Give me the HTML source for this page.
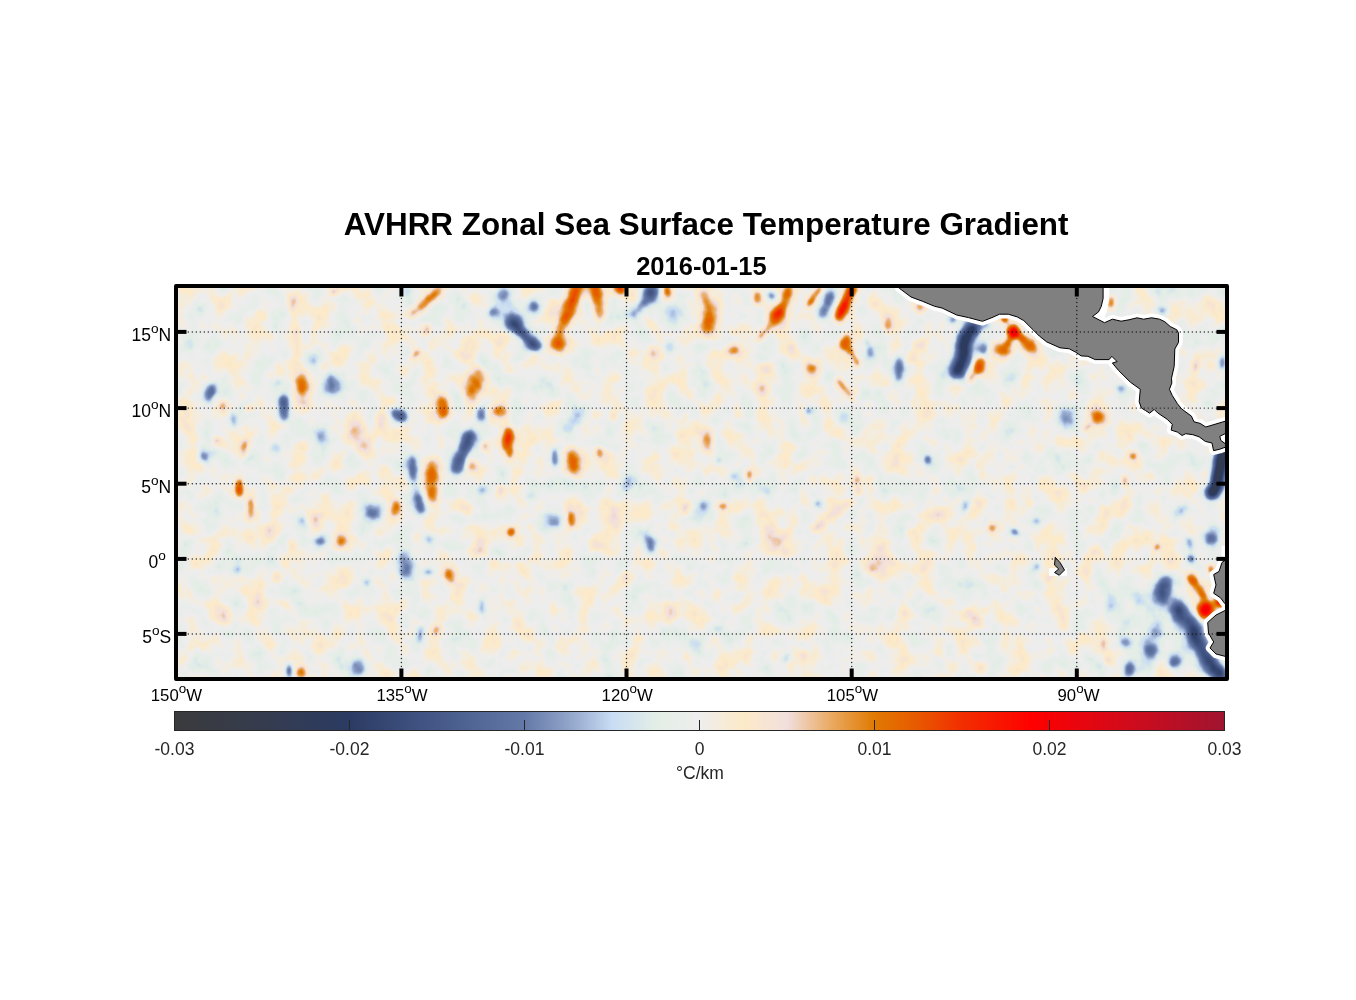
<!DOCTYPE html><html><head><meta charset="utf-8"><title>AVHRR Zonal Sea Surface Temperature Gradient</title>
<style>html,body{margin:0;padding:0;background:#fff}svg{display:block}text{font-family:"Liberation Sans",sans-serif}</style></head><body>
<svg style="will-change:transform" width="1356" height="1000" viewBox="0 0 1356 1000">
<defs>
<clipPath id="cp"><rect x="176" y="286" width="1051" height="393"/></clipPath>
<filter id="bl0" filterUnits="userSpaceOnUse" x="120" y="230" width="1160" height="500" color-interpolation-filters="sRGB"><feGaussianBlur stdDeviation="2.4"/></filter>
<filter id="bl1" filterUnits="userSpaceOnUse" x="120" y="230" width="1160" height="500" color-interpolation-filters="sRGB"><feGaussianBlur stdDeviation="3.2"/></filter>
<filter id="bl2" filterUnits="userSpaceOnUse" x="120" y="230" width="1160" height="500" color-interpolation-filters="sRGB"><feGaussianBlur stdDeviation="4.0"/></filter>
<filter id="bl2" filterUnits="userSpaceOnUse" x="120" y="230" width="1160" height="500" color-interpolation-filters="sRGB"><feGaussianBlur stdDeviation="4.5"/></filter>
<filter id="cm" filterUnits="userSpaceOnUse" x="120" y="230" width="1160" height="500" color-interpolation-filters="sRGB">
<feTurbulence type="fractalNoise" baseFrequency="0.045 0.04" numOctaves="3" seed="7" result="n0"/>
<feColorMatrix in="n0" type="matrix" values="0.18 0 0 0 0.41  0.18 0 0 0 0.41  0.18 0 0 0 0.41  0 0 0 0 1" result="n1"/>
<feComposite in="SourceGraphic" in2="n1" operator="arithmetic" k1="0" k2="1" k3="1" k4="-0.5" result="f"/>
<feComponentTransfer in="f"><feFuncR type="table" tableValues="0.231 0.229 0.227 0.224 0.222 0.220 0.217 0.215 0.213 0.210 0.208 0.204 0.200 0.196 0.192 0.188 0.184 0.180 0.176 0.173 0.169 0.179 0.189 0.199 0.209 0.220 0.230 0.240 0.250 0.260 0.271 0.283 0.295 0.307 0.319 0.331 0.344 0.356 0.368 0.380 0.392 0.427 0.461 0.496 0.530 0.565 0.609 0.653 0.696 0.740 0.784 0.805 0.827 0.848 0.869 0.890 0.899 0.907 0.916 0.925 0.933 0.945 0.957 0.969 0.980 0.992 0.983 0.973 0.964 0.955 0.945 0.940 0.934 0.929 0.923 0.918 0.910 0.902 0.894 0.886 0.878 0.885 0.891 0.897 0.904 0.910 0.918 0.925 0.933 0.941 0.949 0.955 0.962 0.968 0.975 0.981 0.987 0.994 1.000 0.983 0.967 0.950 0.933 0.917 0.900 0.883 0.867 0.850 0.833 0.817 0.800 0.783 0.765 0.748 0.731 0.714 0.696 0.679 0.662 0.645 0.627"/><feFuncG type="table" tableValues="0.231 0.232 0.232 0.233 0.233 0.233 0.234 0.234 0.235 0.235 0.235 0.235 0.235 0.234 0.234 0.233 0.233 0.233 0.232 0.232 0.231 0.243 0.254 0.265 0.277 0.288 0.300 0.311 0.322 0.334 0.345 0.358 0.371 0.384 0.397 0.410 0.423 0.436 0.449 0.462 0.475 0.507 0.540 0.573 0.606 0.639 0.684 0.729 0.773 0.818 0.863 0.877 0.891 0.905 0.919 0.933 0.933 0.933 0.933 0.933 0.933 0.930 0.927 0.924 0.921 0.918 0.909 0.900 0.892 0.883 0.875 0.833 0.791 0.750 0.708 0.667 0.629 0.591 0.554 0.516 0.478 0.452 0.425 0.398 0.372 0.345 0.312 0.279 0.246 0.213 0.180 0.158 0.135 0.113 0.090 0.068 0.045 0.023 0.000 0.004 0.008 0.012 0.016 0.020 0.024 0.027 0.031 0.035 0.039 0.043 0.047 0.050 0.053 0.056 0.060 0.063 0.066 0.069 0.072 0.075 0.078"/><feFuncB type="table" tableValues="0.239 0.246 0.253 0.259 0.266 0.273 0.279 0.286 0.293 0.299 0.306 0.314 0.322 0.331 0.339 0.347 0.355 0.364 0.372 0.380 0.388 0.403 0.417 0.432 0.446 0.461 0.475 0.490 0.504 0.519 0.533 0.546 0.558 0.571 0.584 0.596 0.609 0.621 0.634 0.646 0.659 0.685 0.711 0.736 0.762 0.788 0.822 0.856 0.889 0.923 0.957 0.946 0.935 0.924 0.913 0.902 0.908 0.915 0.921 0.927 0.933 0.904 0.874 0.844 0.814 0.784 0.802 0.819 0.836 0.853 0.871 0.773 0.676 0.579 0.482 0.384 0.309 0.234 0.158 0.083 0.008 0.006 0.005 0.003 0.002 0.000 0.000 0.000 0.000 0.000 0.000 0.000 0.000 0.000 0.000 0.000 0.000 0.000 0.000 0.010 0.020 0.029 0.039 0.049 0.059 0.069 0.078 0.088 0.098 0.108 0.118 0.125 0.132 0.139 0.146 0.153 0.160 0.167 0.174 0.181 0.188"/></feComponentTransfer>
</filter>
<linearGradient id="cb" x1="0" x2="1" y1="0" y2="0">
<stop offset="0.0000" stop-color="#3b3b3d"/>
<stop offset="0.0833" stop-color="#353c4e"/>
<stop offset="0.1667" stop-color="#2b3b63"/>
<stop offset="0.2500" stop-color="#455888"/>
<stop offset="0.3333" stop-color="#6479a8"/>
<stop offset="0.3750" stop-color="#90a3c9"/>
<stop offset="0.4167" stop-color="#c8dcf4"/>
<stop offset="0.4583" stop-color="#e3eee6"/>
<stop offset="0.5000" stop-color="#eeeeee"/>
<stop offset="0.5417" stop-color="#fdeac8"/>
<stop offset="0.5833" stop-color="#f1dfde"/>
<stop offset="0.6250" stop-color="#eaaa62"/>
<stop offset="0.6667" stop-color="#e07a02"/>
<stop offset="0.7083" stop-color="#e85800"/>
<stop offset="0.7500" stop-color="#f22e00"/>
<stop offset="0.8167" stop-color="#ff0000"/>
<stop offset="0.9167" stop-color="#cc0c1e"/>
<stop offset="1.0000" stop-color="#a01430"/>
</linearGradient>
</defs>
<g clip-path="url(#cp)"><g filter="url(#cm)">
<rect x="120" y="230" width="1160" height="500" fill="#808080"/>
<g filter="url(#bl2)">
<ellipse cx="356" cy="428" rx="8.3" ry="14.3" fill="#fff" opacity="0.177"/>
<ellipse cx="364" cy="448" rx="6.3" ry="8.3" fill="#fff" opacity="0.187"/>
<ellipse cx="299" cy="370" rx="6.3" ry="13.3" fill="#fff" opacity="0.175" transform="rotate(5 299 370)"/>
<ellipse cx="306" cy="402" rx="5.3" ry="5.3" fill="#fff" opacity="0.230"/>
<ellipse cx="406" cy="292" rx="5.3" ry="4.3" fill="#000" opacity="0.239"/>
<ellipse cx="290" cy="304" rx="5.3" ry="6.3" fill="#fff" opacity="0.167"/>
<ellipse cx="223" cy="304" rx="6.3" ry="10.3" fill="#fff" opacity="0.114"/>
<ellipse cx="380" cy="424" rx="5.3" ry="8.3" fill="#fff" opacity="0.169"/>
<ellipse cx="385" cy="472" rx="4.3" ry="6.3" fill="#fff" opacity="0.241"/>
<ellipse cx="320" cy="472" rx="6.3" ry="5.3" fill="#fff" opacity="0.146"/>
<ellipse cx="184" cy="418" rx="4.3" ry="6.3" fill="#fff" opacity="0.217"/>
<ellipse cx="190" cy="344" rx="5.3" ry="10.3" fill="#000" opacity="0.143"/>
<ellipse cx="196" cy="307" rx="5.3" ry="5.3" fill="#000" opacity="0.161"/>
<ellipse cx="515" cy="310" rx="22.3" ry="18.3" fill="#000" opacity="0.080"/>
<ellipse cx="552" cy="312" rx="8.3" ry="14.3" fill="#fff" opacity="0.114" transform="rotate(15 552 312)"/>
<ellipse cx="574" cy="420" rx="7.3" ry="16.3" fill="#000" opacity="0.173" transform="rotate(35 574 420)"/>
<ellipse cx="498" cy="378" rx="3.3" ry="14.3" fill="#000" opacity="0.199"/>
<ellipse cx="594" cy="364" rx="4.3" ry="8.3" fill="#fff" opacity="0.194"/>
<ellipse cx="614" cy="340" rx="4.3" ry="6.3" fill="#fff" opacity="0.193"/>
<ellipse cx="686" cy="416" rx="4.3" ry="5.3" fill="#fff" opacity="0.265"/>
<ellipse cx="689" cy="454" rx="4.3" ry="5.3" fill="#fff" opacity="0.212"/>
<ellipse cx="672" cy="316" rx="4.3" ry="10.3" fill="#000" opacity="0.206"/>
<ellipse cx="465" cy="349" rx="15.3" ry="12.3" fill="#fff" opacity="0.107"/>
<ellipse cx="456" cy="296" rx="8.3" ry="5.3" fill="#000" opacity="0.150"/>
<ellipse cx="764" cy="368" rx="5.3" ry="5.3" fill="#fff" opacity="0.230"/>
<ellipse cx="720" cy="380" rx="5.3" ry="5.3" fill="#fff" opacity="0.184"/>
<ellipse cx="762" cy="390" rx="4.3" ry="7.3" fill="#fff" opacity="0.180"/>
<ellipse cx="792" cy="346" rx="6.3" ry="4.3" fill="#fff" opacity="0.193"/>
<ellipse cx="824" cy="406" rx="3.3" ry="8.3" fill="#fff" opacity="0.266"/>
<ellipse cx="912" cy="360" rx="4.3" ry="5.3" fill="#fff" opacity="0.212"/>
<ellipse cx="920" cy="344" rx="5.3" ry="4.3" fill="#fff" opacity="0.212"/>
<ellipse cx="740" cy="412" rx="3.3" ry="5.3" fill="#fff" opacity="0.245"/>
<ellipse cx="842" cy="420" rx="3.3" ry="8.3" fill="#000" opacity="0.213"/>
<ellipse cx="864" cy="394" rx="6.3" ry="4.3" fill="#000" opacity="0.193"/>
<ellipse cx="798" cy="458" rx="4.3" ry="4.3" fill="#000" opacity="0.244"/>
<ellipse cx="942" cy="380" rx="4.3" ry="6.3" fill="#000" opacity="0.193"/>
<ellipse cx="724" cy="410" rx="4.3" ry="4.3" fill="#000" opacity="0.244"/>
<ellipse cx="1042" cy="388" rx="8.3" ry="10.3" fill="#fff" opacity="0.102"/>
<ellipse cx="1128" cy="434" rx="20.3" ry="10.3" fill="#fff" opacity="0.095"/>
<ellipse cx="1008" cy="380" rx="6.3" ry="5.3" fill="#000" opacity="0.167"/>
<ellipse cx="386" cy="672" rx="5.3" ry="5.3" fill="#fff" opacity="0.230"/>
<ellipse cx="260" cy="598" rx="6.3" ry="8.3" fill="#fff" opacity="0.136"/>
<ellipse cx="224" cy="616" rx="6.3" ry="10.3" fill="#fff" opacity="0.130"/>
<ellipse cx="342" cy="578" rx="8.3" ry="10.3" fill="#fff" opacity="0.117"/>
<ellipse cx="196" cy="612" rx="5.3" ry="5.3" fill="#000" opacity="0.230"/>
<ellipse cx="268" cy="504" rx="3.3" ry="3.3" fill="#000" opacity="0.245"/>
<ellipse cx="196" cy="514" rx="5.3" ry="5.3" fill="#fff" opacity="0.138"/>
<ellipse cx="266" cy="530" rx="5.3" ry="5.3" fill="#fff" opacity="0.184"/>
<ellipse cx="292" cy="544" rx="6.3" ry="4.3" fill="#fff" opacity="0.193"/>
<ellipse cx="218" cy="496" rx="6.3" ry="8.3" fill="#000" opacity="0.136"/>
<ellipse cx="574" cy="514" rx="10.3" ry="16.3" fill="#fff" opacity="0.109"/>
<ellipse cx="466" cy="510" rx="8.3" ry="4.3" fill="#fff" opacity="0.173"/>
<ellipse cx="498" cy="564" rx="10.3" ry="5.3" fill="#fff" opacity="0.179"/>
<ellipse cx="596" cy="546" rx="6.3" ry="6.3" fill="#fff" opacity="0.190"/>
<ellipse cx="616" cy="524" rx="5.3" ry="10.3" fill="#fff" opacity="0.179"/>
<ellipse cx="516" cy="614" rx="5.3" ry="12.3" fill="#fff" opacity="0.141" transform="rotate(-20 516 614)"/>
<ellipse cx="670" cy="614" rx="6.3" ry="10.3" fill="#fff" opacity="0.098"/>
<ellipse cx="484" cy="644" rx="5.3" ry="8.3" fill="#fff" opacity="0.150"/>
<ellipse cx="540" cy="584" rx="5.3" ry="5.3" fill="#fff" opacity="0.184"/>
<ellipse cx="480" cy="548" rx="5.3" ry="4.3" fill="#fff" opacity="0.212"/>
<ellipse cx="676" cy="548" rx="5.3" ry="6.3" fill="#fff" opacity="0.167"/>
<ellipse cx="626" cy="578" rx="4.3" ry="4.3" fill="#fff" opacity="0.244"/>
<ellipse cx="568" cy="586" rx="5.3" ry="4.3" fill="#000" opacity="0.212"/>
<ellipse cx="698" cy="644" rx="4.3" ry="4.3" fill="#000" opacity="0.244"/>
<ellipse cx="604" cy="658" rx="4.3" ry="4.3" fill="#000" opacity="0.244"/>
<ellipse cx="530" cy="496" rx="4.3" ry="4.3" fill="#000" opacity="0.244"/>
<ellipse cx="778" cy="542" rx="18.3" ry="16.3" fill="#fff" opacity="0.120"/>
<ellipse cx="886" cy="564" rx="18.3" ry="18.3" fill="#fff" opacity="0.093"/>
<ellipse cx="940" cy="516" rx="4.3" ry="8.3" fill="#fff" opacity="0.216"/>
<ellipse cx="866" cy="607" rx="4.3" ry="4.3" fill="#fff" opacity="0.244"/>
<ellipse cx="822" cy="604" rx="4.3" ry="10.3" fill="#fff" opacity="0.165"/>
<ellipse cx="904" cy="612" rx="4.3" ry="5.3" fill="#fff" opacity="0.212"/>
<ellipse cx="964" cy="614" rx="5.3" ry="6.3" fill="#fff" opacity="0.209"/>
<ellipse cx="942" cy="650" rx="4.3" ry="8.3" fill="#fff" opacity="0.173"/>
<ellipse cx="744" cy="546" rx="5.3" ry="5.3" fill="#000" opacity="0.184"/>
<ellipse cx="716" cy="538" rx="4.3" ry="5.3" fill="#000" opacity="0.212"/>
<ellipse cx="808" cy="608" rx="3.3" ry="4.3" fill="#000" opacity="0.245"/>
<ellipse cx="900" cy="494" rx="3.3" ry="4.3" fill="#000" opacity="0.245"/>
<ellipse cx="962" cy="566" rx="4.3" ry="4.3" fill="#000" opacity="0.244"/>
<ellipse cx="966" cy="668" rx="4.3" ry="4.3" fill="#000" opacity="0.305"/>
<ellipse cx="734" cy="592" rx="3.3" ry="3.3" fill="#000" opacity="0.245"/>
<ellipse cx="856" cy="570" rx="4.3" ry="4.3" fill="#000" opacity="0.244"/>
<ellipse cx="1160" cy="632" rx="38.3" ry="36.3" fill="#000" opacity="0.080"/>
<ellipse cx="1150" cy="600" rx="14.3" ry="14.3" fill="#000" opacity="0.053"/>
<ellipse cx="1144" cy="542" rx="8.3" ry="10.3" fill="#fff" opacity="0.146"/>
<ellipse cx="1124" cy="510" rx="6.3" ry="10.3" fill="#fff" opacity="0.163"/>
<ellipse cx="1139.5" cy="600" rx="6.3" ry="6.3" fill="#000" opacity="0.228"/>
<ellipse cx="1157.5" cy="630" rx="6.3" ry="8.3" fill="#000" opacity="0.204"/>
<ellipse cx="1163.5" cy="672" rx="5.3" ry="8.3" fill="#fff" opacity="0.187"/>
<ellipse cx="1020" cy="648" rx="4.3" ry="10.3" fill="#fff" opacity="0.165"/>
<ellipse cx="1037" cy="542" rx="4.3" ry="8.3" fill="#fff" opacity="0.216"/>
<ellipse cx="1088" cy="570" rx="5.3" ry="8.3" fill="#fff" opacity="0.187"/>
<ellipse cx="1030" cy="506" rx="4.3" ry="12.3" fill="#fff" opacity="0.162" transform="rotate(20 1030 506)"/>
<ellipse cx="978" cy="502" rx="3.3" ry="8.3" fill="#fff" opacity="0.213"/>
<ellipse cx="1064" cy="494" rx="4.3" ry="6.3" fill="#fff" opacity="0.193"/>
<ellipse cx="1096" cy="550" rx="5.3" ry="5.3" fill="#fff" opacity="0.184"/>
<ellipse cx="1066" cy="624" rx="4.3" ry="6.3" fill="#fff" opacity="0.193"/>
</g>
<g filter="url(#bl0)">
<ellipse cx="427" cy="330" rx="3.3" ry="6.3" fill="#fff" opacity="0.283" transform="rotate(10 427 330)"/>
<ellipse cx="416" cy="354" rx="2.8" ry="6.3" fill="#fff" opacity="0.289" transform="rotate(40 416 354)"/>
<ellipse cx="244" cy="450" rx="3.3" ry="9.3" fill="#fff" opacity="0.301" transform="rotate(10 244 450)"/>
<ellipse cx="249" cy="408" rx="3.3" ry="3.3" fill="#fff" opacity="0.314"/>
<ellipse cx="223" cy="406" rx="2.8" ry="5.3" fill="#fff" opacity="0.294" transform="rotate(20 223 406)"/>
<ellipse cx="217" cy="441" rx="2.8" ry="4.3" fill="#fff" opacity="0.309"/>
<ellipse cx="239.5" cy="488" rx="3.8" ry="10.3" fill="#fff" opacity="0.470"/>
<ellipse cx="233" cy="420" rx="3.3" ry="8.3" fill="#000" opacity="0.221"/>
<ellipse cx="334" cy="292" rx="3.3" ry="3.3" fill="#fff" opacity="0.266"/>
<ellipse cx="574" cy="298" rx="3.3" ry="8.3" fill="#fff" opacity="0.120" transform="rotate(20 574 298)"/>
<ellipse cx="510" cy="454" rx="2.8" ry="5.3" fill="#fff" opacity="0.408"/>
<ellipse cx="599.3" cy="452.2" rx="3.8" ry="5.3" fill="#fff" opacity="0.328"/>
<ellipse cx="485" cy="446.5" rx="3.3" ry="4.8" fill="#fff" opacity="0.357"/>
<ellipse cx="554.7" cy="458" rx="2.8" ry="10.3" fill="#000" opacity="0.441"/>
<ellipse cx="614" cy="416" rx="3.3" ry="5.3" fill="#fff" opacity="0.206"/>
<ellipse cx="757" cy="298" rx="3.8" ry="8.3" fill="#fff" opacity="0.339"/>
<ellipse cx="870" cy="352" rx="3.3" ry="7.3" fill="#000" opacity="0.322"/>
<ellipse cx="866" cy="342" rx="3.3" ry="4.3" fill="#000" opacity="0.260"/>
<ellipse cx="749" cy="476" rx="3.8" ry="6.3" fill="#fff" opacity="0.379"/>
<ellipse cx="808" cy="411" rx="3.8" ry="3.8" fill="#000" opacity="0.382"/>
<ellipse cx="928" cy="460" rx="2.8" ry="4.8" fill="#000" opacity="0.415"/>
<ellipse cx="734" cy="476" rx="3.8" ry="3.8" fill="#000" opacity="0.254"/>
<ellipse cx="718" cy="461" rx="3.3" ry="3.3" fill="#000" opacity="0.290"/>
<ellipse cx="953" cy="320" rx="3.3" ry="3.3" fill="#000" opacity="0.338"/>
<ellipse cx="857" cy="480" rx="3.3" ry="4.3" fill="#fff" opacity="0.260"/>
<ellipse cx="1005" cy="319" rx="3.3" ry="4.3" fill="#fff" opacity="0.563"/>
<ellipse cx="971" cy="378" rx="3.3" ry="4.3" fill="#fff" opacity="0.390" transform="rotate(30 971 378)"/>
<ellipse cx="1133" cy="456" rx="3.3" ry="3.3" fill="#fff" opacity="0.435"/>
<ellipse cx="1125" cy="481" rx="3.3" ry="6.3" fill="#fff" opacity="0.364"/>
<ellipse cx="1111" cy="302" rx="2.8" ry="7.3" fill="#fff" opacity="0.397"/>
<ellipse cx="1222" cy="362" rx="3.3" ry="7.3" fill="#000" opacity="0.442"/>
<ellipse cx="1121" cy="388" rx="4.3" ry="3.3" fill="#000" opacity="0.303"/>
<ellipse cx="1196" cy="366" rx="3.3" ry="7.3" fill="#fff" opacity="0.201" transform="rotate(20 1196 366)"/>
<ellipse cx="251" cy="509" rx="3.3" ry="11.3" fill="#fff" opacity="0.361"/>
<ellipse cx="428" cy="572" rx="5.3" ry="3.3" fill="#000" opacity="0.289"/>
<ellipse cx="237" cy="571" rx="3.3" ry="5.3" fill="#000" opacity="0.289"/>
<ellipse cx="367" cy="582" rx="3.8" ry="3.8" fill="#000" opacity="0.297"/>
<ellipse cx="420" cy="634" rx="3.8" ry="8.3" fill="#000" opacity="0.301"/>
<ellipse cx="436" cy="630" rx="3.8" ry="5.3" fill="#fff" opacity="0.271"/>
<ellipse cx="289" cy="670" rx="2.8" ry="7.3" fill="#000" opacity="0.530"/>
<ellipse cx="302" cy="521" rx="3.3" ry="3.3" fill="#000" opacity="0.241"/>
<ellipse cx="511" cy="532" rx="3.8" ry="4.8" fill="#fff" opacity="0.394"/>
<ellipse cx="571" cy="520" rx="3.3" ry="8.3" fill="#fff" opacity="0.401"/>
<ellipse cx="482" cy="608" rx="3.3" ry="8.3" fill="#000" opacity="0.241"/>
<ellipse cx="500" cy="490" rx="3.3" ry="6.3" fill="#fff" opacity="0.202"/>
<ellipse cx="818" cy="504" rx="3.8" ry="3.8" fill="#000" opacity="0.297"/>
<ellipse cx="965" cy="506" rx="3.3" ry="6.3" fill="#000" opacity="0.283"/>
<ellipse cx="784" cy="552" rx="3.3" ry="4.3" fill="#fff" opacity="0.087"/>
<ellipse cx="858" cy="492" rx="3.8" ry="5.3" fill="#fff" opacity="0.271"/>
<ellipse cx="872" cy="570" rx="3.3" ry="4.3" fill="#fff" opacity="0.152"/>
<ellipse cx="804" cy="654" rx="3.3" ry="6.3" fill="#fff" opacity="0.202"/>
<ellipse cx="787" cy="657" rx="3.3" ry="5.3" fill="#000" opacity="0.247"/>
<ellipse cx="767" cy="491" rx="2.8" ry="2.8" fill="#000" opacity="0.291"/>
<ellipse cx="1015" cy="532" rx="5.3" ry="3.3" fill="#000" opacity="0.454" transform="rotate(35 1015 532)"/>
<ellipse cx="1157" cy="547" rx="3.3" ry="3.3" fill="#fff" opacity="0.483"/>
<ellipse cx="1211" cy="569" rx="3.3" ry="5.3" fill="#fff" opacity="0.412"/>
<ellipse cx="1191" cy="559" rx="3.3" ry="3.3" fill="#000" opacity="0.483"/>
<ellipse cx="1104" cy="646" rx="3.8" ry="7.3" fill="#fff" opacity="0.264"/>
<ellipse cx="1108" cy="660" rx="3.3" ry="5.3" fill="#fff" opacity="0.206"/>
<ellipse cx="1037" cy="567" rx="3.3" ry="3.3" fill="#000" opacity="0.290"/>
<ellipse cx="1036" cy="521" rx="3.3" ry="3.3" fill="#000" opacity="0.241"/>
<ellipse cx="1190" cy="542" rx="3.3" ry="6.3" fill="#000" opacity="0.243"/>
<path d="M293 300 L296 330 L298 355" fill="none" stroke="#fff" stroke-width="6" stroke-linecap="round" stroke-linejoin="round" opacity="0.093"/>
<path d="M769 327 L760 337" fill="none" stroke="#fff" stroke-width="6" stroke-linecap="round" stroke-linejoin="round" opacity="0.338"/>
<path d="M820 288 L809 304" fill="none" stroke="#fff" stroke-width="6" stroke-linecap="round" stroke-linejoin="round" opacity="0.423"/>
<path d="M850 350 L858 364" fill="none" stroke="#fff" stroke-width="5" stroke-linecap="round" stroke-linejoin="round" opacity="0.380"/>
<path d="M838 380 L848.5 394" fill="none" stroke="#fff" stroke-width="5" stroke-linecap="round" stroke-linejoin="round" opacity="0.380"/>
<path d="M1089 425 L1085 429" fill="none" stroke="#fff" stroke-width="4" stroke-linecap="round" stroke-linejoin="round" opacity="0.336"/>
<path d="M1013 334 L1008 343" fill="none" stroke="#fff" stroke-width="6" stroke-linecap="round" stroke-linejoin="round" opacity="0.380"/>
<path d="M1016 334 L1024 339" fill="none" stroke="#fff" stroke-width="6" stroke-linecap="round" stroke-linejoin="round" opacity="0.380"/>
<path d="M1193 581 L1198 588 L1204 597" fill="none" stroke="#fff" stroke-width="7" stroke-linecap="round" stroke-linejoin="round" opacity="0.351"/>
</g>
<g filter="url(#bl1)">
<ellipse cx="284" cy="408" rx="5.8" ry="13.3" fill="#000" opacity="0.502"/>
<ellipse cx="210" cy="393" rx="5.3" ry="9.3" fill="#000" opacity="0.445" transform="rotate(20 210 393)"/>
<ellipse cx="399" cy="415" rx="10.3" ry="5.8" fill="#000" opacity="0.467" transform="rotate(25 399 415)"/>
<ellipse cx="413" cy="468" rx="4.3" ry="14.3" fill="#000" opacity="0.426"/>
<ellipse cx="204" cy="456" rx="5.3" ry="5.3" fill="#000" opacity="0.368"/>
<ellipse cx="276" cy="448" rx="4.3" ry="4.3" fill="#000" opacity="0.297"/>
<ellipse cx="278" cy="382" rx="4.3" ry="4.3" fill="#000" opacity="0.247"/>
<ellipse cx="314" cy="362" rx="4.3" ry="5.3" fill="#000" opacity="0.202"/>
<ellipse cx="535.5" cy="345.5" rx="6.3" ry="6.3" fill="#000" opacity="0.516"/>
<ellipse cx="533" cy="306.5" rx="5.3" ry="5.3" fill="#000" opacity="0.450"/>
<ellipse cx="504" cy="293.5" rx="6.3" ry="6.3" fill="#000" opacity="0.276"/>
<ellipse cx="493" cy="312" rx="4.3" ry="4.3" fill="#000" opacity="0.321"/>
<ellipse cx="620" cy="288" rx="4.8" ry="7.3" fill="#fff" opacity="0.551" transform="rotate(-15 620 288)"/>
<ellipse cx="667.5" cy="292" rx="4.3" ry="7.3" fill="#fff" opacity="0.436"/>
<ellipse cx="443" cy="407" rx="5.8" ry="12.3" fill="#fff" opacity="0.401"/>
<ellipse cx="500.5" cy="411" rx="10.3" ry="5.3" fill="#fff" opacity="0.333"/>
<ellipse cx="508" cy="440" rx="5.3" ry="12.3" fill="#fff" opacity="0.591" transform="rotate(5 508 440)"/>
<ellipse cx="481" cy="415" rx="4.8" ry="8.3" fill="#000" opacity="0.466"/>
<ellipse cx="471" cy="466" rx="4.3" ry="5.3" fill="#fff" opacity="0.360"/>
<ellipse cx="626" cy="484" rx="4.3" ry="9.3" fill="#000" opacity="0.224" transform="rotate(20 626 484)"/>
<ellipse cx="654" cy="353" rx="4.3" ry="4.3" fill="#fff" opacity="0.247"/>
<ellipse cx="670" cy="346" rx="5.3" ry="5.3" fill="#000" opacity="0.246"/>
<ellipse cx="704.5" cy="297" rx="4.3" ry="8.3" fill="#fff" opacity="0.295" transform="rotate(-10 704.5 297)"/>
<ellipse cx="771" cy="295" rx="4.3" ry="4.3" fill="#000" opacity="0.544"/>
<ellipse cx="845.5" cy="342.5" rx="6.3" ry="9.3" fill="#fff" opacity="0.457" transform="rotate(15 845.5 342.5)"/>
<ellipse cx="734" cy="349.5" rx="6.3" ry="5.3" fill="#fff" opacity="0.369"/>
<ellipse cx="811" cy="368.5" rx="5.8" ry="5.8" fill="#fff" opacity="0.301"/>
<ellipse cx="899" cy="368.5" rx="4.3" ry="12.3" fill="#000" opacity="0.374"/>
<ellipse cx="708" cy="442" rx="4.3" ry="10.3" fill="#fff" opacity="0.325"/>
<ellipse cx="888" cy="324.5" rx="4.3" ry="8.3" fill="#fff" opacity="0.348"/>
<ellipse cx="920" cy="308" rx="5.3" ry="4.3" fill="#fff" opacity="0.315"/>
<ellipse cx="1013" cy="331" rx="6.3" ry="6.3" fill="#fff" opacity="0.700"/>
<ellipse cx="979" cy="366" rx="5.3" ry="9.3" fill="#fff" opacity="0.519" transform="rotate(25 979 366)"/>
<ellipse cx="982" cy="348" rx="5.8" ry="6.8" fill="#000" opacity="0.352"/>
<ellipse cx="984" cy="324" rx="8.3" ry="4.3" fill="#000" opacity="0.328"/>
<ellipse cx="1162" cy="311" rx="4.3" ry="4.3" fill="#000" opacity="0.544"/>
<ellipse cx="396" cy="508" rx="5.3" ry="8.3" fill="#fff" opacity="0.373" transform="rotate(20 396 508)"/>
<ellipse cx="420" cy="504" rx="5.3" ry="11.3" fill="#000" opacity="0.443" transform="rotate(-15 420 504)"/>
<ellipse cx="341" cy="541" rx="4.8" ry="7.3" fill="#fff" opacity="0.335"/>
<ellipse cx="320" cy="541" rx="5.3" ry="5.3" fill="#000" opacity="0.491"/>
<ellipse cx="429" cy="539" rx="4.3" ry="4.3" fill="#000" opacity="0.396"/>
<ellipse cx="301" cy="672" rx="5.3" ry="6.3" fill="#fff" opacity="0.427"/>
<ellipse cx="358" cy="668" rx="6.3" ry="9.3" fill="#000" opacity="0.352"/>
<ellipse cx="316" cy="522" rx="4.3" ry="8.3" fill="#fff" opacity="0.205"/>
<ellipse cx="278" cy="578" rx="4.3" ry="6.3" fill="#fff" opacity="0.213"/>
<ellipse cx="449" cy="576" rx="5.3" ry="8.3" fill="#fff" opacity="0.373" transform="rotate(-20 449 576)"/>
<ellipse cx="650" cy="544" rx="5.3" ry="10.3" fill="#000" opacity="0.296" transform="rotate(-20 650 544)"/>
<ellipse cx="704" cy="506" rx="5.8" ry="6.3" fill="#000" opacity="0.339"/>
<ellipse cx="687" cy="509" rx="4.3" ry="6.3" fill="#fff" opacity="0.256"/>
<ellipse cx="483" cy="489" rx="4.3" ry="6.3" fill="#000" opacity="0.256"/>
<ellipse cx="723" cy="506" rx="4.8" ry="4.3" fill="#fff" opacity="0.516"/>
<ellipse cx="778" cy="542" rx="4.3" ry="5.3" fill="#fff" opacity="0.090"/>
<ellipse cx="718" cy="629" rx="4.3" ry="4.3" fill="#000" opacity="0.247"/>
<ellipse cx="992" cy="528" rx="4.8" ry="4.8" fill="#fff" opacity="0.422"/>
<ellipse cx="1190.5" cy="577.5" rx="5.8" ry="5.8" fill="#fff" opacity="0.347"/>
<ellipse cx="1221" cy="602" rx="5.3" ry="4.3" fill="#fff" opacity="0.900"/>
<ellipse cx="1195" cy="635" rx="4.3" ry="7.3" fill="#000" opacity="0.332"/>
<ellipse cx="1151.5" cy="651" rx="6.3" ry="6.3" fill="#000" opacity="0.405"/>
<ellipse cx="1175.5" cy="661.5" rx="6.3" ry="6.3" fill="#000" opacity="0.442"/>
<ellipse cx="1125" cy="642" rx="4.3" ry="4.3" fill="#000" opacity="0.495"/>
<ellipse cx="1129" cy="670.5" rx="5.3" ry="8.3" fill="#000" opacity="0.410"/>
<ellipse cx="1110" cy="604" rx="4.3" ry="8.3" fill="#000" opacity="0.287"/>
<ellipse cx="980" cy="624" rx="9.3" ry="4.3" fill="#fff" opacity="0.204" transform="rotate(40 980 624)"/>
<ellipse cx="984" cy="666" rx="6.3" ry="5.3" fill="#fff" opacity="0.194"/>
<ellipse cx="1048" cy="578" rx="4.3" ry="4.3" fill="#fff" opacity="0.247"/>
<ellipse cx="1182" cy="510" rx="4.3" ry="4.3" fill="#000" opacity="0.297"/>
<path d="M412 314 L424 304 L438 291" fill="none" stroke="#fff" stroke-width="8" stroke-linecap="round" stroke-linejoin="round" opacity="0.380"/>
<path d="M518 329 L531 342" fill="none" stroke="#000" stroke-width="8" stroke-linecap="round" stroke-linejoin="round" opacity="0.507"/>
<path d="M564 321 L560 331" fill="none" stroke="#fff" stroke-width="9" stroke-linecap="round" stroke-linejoin="round" opacity="0.278"/>
<path d="M594 287 L597 300 L601 314" fill="none" stroke="#fff" stroke-width="12" stroke-linecap="round" stroke-linejoin="round" opacity="0.373"/>
<path d="M645 302 L634 314" fill="none" stroke="#000" stroke-width="8" stroke-linecap="round" stroke-linejoin="round" opacity="0.359"/>
<path d="M470 436 L463 452 L456 468" fill="none" stroke="#000" stroke-width="12" stroke-linecap="round" stroke-linejoin="round" opacity="0.497"/>
<path d="M788 290 L785 303 L780 312" fill="none" stroke="#fff" stroke-width="8" stroke-linecap="round" stroke-linejoin="round" opacity="0.444"/>
<path d="M830 296 L822 314" fill="none" stroke="#000" stroke-width="9" stroke-linecap="round" stroke-linejoin="round" opacity="0.397"/>
<path d="M852 289 L839 317" fill="none" stroke="#fff" stroke-width="8.5" stroke-linecap="round" stroke-linejoin="round" opacity="0.633"/>
<path d="M1222 452 L1219.5 470 L1217 485 L1212 493" fill="none" stroke="#000" stroke-width="12" stroke-linecap="round" stroke-linejoin="round" opacity="0.852"/>
<path d="M816 528 L834 514 L852 502" fill="none" stroke="#fff" stroke-width="8" stroke-linecap="round" stroke-linejoin="round" opacity="0.211"/>
</g>
<g filter="url(#bl2)">
<ellipse cx="301" cy="386" rx="7.3" ry="11.3" fill="#fff" opacity="0.413"/>
<ellipse cx="330" cy="384" rx="7.3" ry="11.3" fill="#000" opacity="0.341"/>
<ellipse cx="431.5" cy="481" rx="6.8" ry="23.3" fill="#fff" opacity="0.439"/>
<ellipse cx="321" cy="436" rx="7.3" ry="8.3" fill="#000" opacity="0.260"/>
<ellipse cx="514" cy="324" rx="8.3" ry="8.3" fill="#000" opacity="0.612"/>
<ellipse cx="557" cy="344" rx="7.3" ry="9.3" fill="#fff" opacity="0.383"/>
<ellipse cx="651" cy="292" rx="7.3" ry="8.3" fill="#000" opacity="0.706" transform="rotate(25 651 292)"/>
<ellipse cx="474.5" cy="384" rx="8.3" ry="17.8" fill="#fff" opacity="0.388" transform="rotate(15 474.5 384)"/>
<ellipse cx="572.5" cy="462.5" rx="6.8" ry="16.3" fill="#fff" opacity="0.359" transform="rotate(-10 572.5 462.5)"/>
<ellipse cx="709" cy="318" rx="7.8" ry="18.3" fill="#fff" opacity="0.404" transform="rotate(5 709 318)"/>
<ellipse cx="776" cy="316" rx="6.8" ry="11.3" fill="#fff" opacity="0.588" transform="rotate(30 776 316)"/>
<ellipse cx="1002" cy="349.5" rx="10.8" ry="7.8" fill="#fff" opacity="0.396"/>
<ellipse cx="1029" cy="345" rx="6.8" ry="10.3" fill="#fff" opacity="0.388" transform="rotate(-30 1029 345)"/>
<ellipse cx="1068" cy="418" rx="9.3" ry="12.3" fill="#000" opacity="0.256"/>
<ellipse cx="1097" cy="417" rx="7.3" ry="6.8" fill="#fff" opacity="0.373"/>
<ellipse cx="374" cy="512" rx="9.3" ry="7.3" fill="#000" opacity="0.299" transform="rotate(-35 374 512)"/>
<ellipse cx="405" cy="564" rx="7.3" ry="15.3" fill="#000" opacity="0.351"/>
<ellipse cx="554" cy="522" rx="7.3" ry="8.3" fill="#000" opacity="0.335"/>
<ellipse cx="1211" cy="538" rx="8.3" ry="7.3" fill="#000" opacity="0.483" transform="rotate(-35 1211 538)"/>
<ellipse cx="1205.5" cy="610" rx="7.8" ry="9.3" fill="#fff" opacity="0.825"/>
<ellipse cx="1163.5" cy="589.5" rx="8.3" ry="14.3" fill="#000" opacity="0.485" transform="rotate(15 1163.5 589.5)"/>
<ellipse cx="1180" cy="612" rx="7.3" ry="13.3" fill="#000" opacity="0.537" transform="rotate(-10 1180 612)"/>
<path d="M578 287 L572 303 L567 315" fill="none" stroke="#fff" stroke-width="14" stroke-linecap="round" stroke-linejoin="round" opacity="0.380"/>
<path d="M972 328 L965 340 L963 358 L957 372" fill="none" stroke="#000" stroke-width="13" stroke-linecap="round" stroke-linejoin="round" opacity="0.819"/>
<path d="M1192 622 L1196 638 L1205 655 L1218 672" fill="none" stroke="#000" stroke-width="13" stroke-linecap="round" stroke-linejoin="round" opacity="0.595"/>
<path d="M1212 668 L1224 678" fill="none" stroke="#000" stroke-width="14" stroke-linecap="round" stroke-linejoin="round" opacity="0.435"/>
</g>
</g>
<polygon points="1049,568.25 1067,568.25 1067,575.75 1049,575.75" fill="#fff"/>
<polygon points="1102,286 1109.5,286 1109,300 1107,311 1104,319 1096,317" fill="#fff"/>
<polygon points="1221.5,546 1230,546 1230,556 1221.5,556" fill="#fff"/>
<polygon points="899,284 899.2,288.1 911,297 922.8,301.4 934.6,306.3 942,308 956.7,315 968.5,317.6 982.5,321.3 992,317.6 999.5,314.2 1008.3,314.2 1017.2,316.9 1023.8,320.6 1033.4,330.1 1039.3,336 1046.7,341.9 1060,347.8 1069.3,348.8 1075.9,352.3 1081.2,355.9 1087.9,356.3 1095.2,359.6 1109.1,359.6 1111.8,356.3 1117.1,361.6 1112.4,363 1118.4,370.3 1130.4,382.2 1140.3,389.3 1139.2,401.7 1141.3,407.9 1145.4,410.5 1149.6,413.2 1154.2,409.4 1157.8,413 1167.1,419.2 1172.3,424.4 1171.2,430.1 1177.4,432.1 1182.1,435.5 1185.7,433.7 1192.9,434.7 1199.1,436.8 1205.3,441.4 1212,443 1213.6,450.7 1219.8,449.2 1230,445.5 1230,443.5 1225,443.5 1220.8,440.4 1219.8,436.3 1225,433.7 1230,433.7 1230,419.8 1205.8,427 1200.1,423.4 1194,421.8 1191.4,416.1 1181.6,408.9 1177.4,403.7 1172.3,395.5 1169.4,389.3 1171.8,383.1 1171.5,378.2 1174.2,366.3 1174.8,349 1178.5,342.4 1178.5,333.1 1176.8,329.8 1170.2,326.5 1164.9,321.8 1159.6,319.2 1151.6,317.8 1143.6,319.2 1137,317.8 1129,319.8 1121.1,321.2 1112.4,319.2 1104.5,322.7 1092.5,316.5 1098.5,311.9 1101.2,306.5 1103.1,298.6 1103.1,284" fill="#fff" stroke="#fff" stroke-width="8.5" stroke-linejoin="round"/>
<polygon points="1230,558 1225,560.3 1222,562.5 1219,571.5 1213.7,574.5 1216,585 1213.7,593.3 1220.5,597.8 1225,603.8 1230,604" fill="#fff" stroke="#fff" stroke-width="8.5" stroke-linejoin="round"/>
<polygon points="1230,609 1225,610.5 1216,615 1207.7,622.5 1208.5,633 1213.7,642 1210,648 1216,654 1225,656.3 1230,657" fill="#fff" stroke="#fff" stroke-width="8.5" stroke-linejoin="round"/>
<polygon points="899,284 899.2,288.1 911,297 922.8,301.4 934.6,306.3 942,308 956.7,315 968.5,317.6 982.5,321.3 992,317.6 999.5,314.2 1008.3,314.2 1017.2,316.9 1023.8,320.6 1033.4,330.1 1039.3,336 1046.7,341.9 1060,347.8 1069.3,348.8 1075.9,352.3 1081.2,355.9 1087.9,356.3 1095.2,359.6 1109.1,359.6 1111.8,356.3 1117.1,361.6 1112.4,363 1118.4,370.3 1130.4,382.2 1140.3,389.3 1139.2,401.7 1141.3,407.9 1145.4,410.5 1149.6,413.2 1154.2,409.4 1157.8,413 1167.1,419.2 1172.3,424.4 1171.2,430.1 1177.4,432.1 1182.1,435.5 1185.7,433.7 1192.9,434.7 1199.1,436.8 1205.3,441.4 1212,443 1213.6,450.7 1219.8,449.2 1230,445.5 1230,443.5 1225,443.5 1220.8,440.4 1219.8,436.3 1225,433.7 1230,433.7 1230,419.8 1205.8,427 1200.1,423.4 1194,421.8 1191.4,416.1 1181.6,408.9 1177.4,403.7 1172.3,395.5 1169.4,389.3 1171.8,383.1 1171.5,378.2 1174.2,366.3 1174.8,349 1178.5,342.4 1178.5,333.1 1176.8,329.8 1170.2,326.5 1164.9,321.8 1159.6,319.2 1151.6,317.8 1143.6,319.2 1137,317.8 1129,319.8 1121.1,321.2 1112.4,319.2 1104.5,322.7 1092.5,316.5 1098.5,311.9 1101.2,306.5 1103.1,298.6 1103.1,284" fill="#808080" stroke="#000" stroke-width="1" stroke-linejoin="round"/>
<polygon points="1055.25,557.25 1060,562.5 1064.5,570 1059.25,575.25 1054.5,572.5 1058.75,569 1054.5,565" fill="#808080" stroke="#000" stroke-width="1" stroke-linejoin="round"/>
<polygon points="1230,558 1225,560.3 1222,562.5 1219,571.5 1213.7,574.5 1216,585 1213.7,593.3 1220.5,597.8 1225,603.8 1230,604" fill="#808080" stroke="#000" stroke-width="1" stroke-linejoin="round"/>
<polygon points="1230,609 1225,610.5 1216,615 1207.7,622.5 1208.5,633 1213.7,642 1210,648 1216,654 1225,656.3 1230,657" fill="#808080" stroke="#000" stroke-width="1" stroke-linejoin="round"/>
</g>
<g stroke="#111" stroke-width="1.45" stroke-dasharray="0 4" stroke-linecap="round" fill="none" opacity="0.9">
<line x1="401.4" y1="286.5" x2="401.4" y2="679"/>
<line x1="626.5" y1="286.5" x2="626.5" y2="679"/>
<line x1="851.7" y1="286.5" x2="851.7" y2="679"/>
<line x1="1076.8" y1="286.5" x2="1076.8" y2="679"/>
<line x1="176.3" y1="331.9" x2="1227" y2="331.9"/>
<line x1="176.3" y1="408.1" x2="1227" y2="408.1"/>
<line x1="176.3" y1="483.7" x2="1227" y2="483.7"/>
<line x1="176.3" y1="558.9" x2="1227" y2="558.9"/>
<line x1="176.3" y1="633.9" x2="1227" y2="633.9"/>
</g>
<g stroke="#000" stroke-width="4" fill="none">
<line x1="401.4" y1="286" x2="401.4" y2="296.5"/><line x1="401.4" y1="679" x2="401.4" y2="668.5"/>
<line x1="626.5" y1="286" x2="626.5" y2="296.5"/><line x1="626.5" y1="679" x2="626.5" y2="668.5"/>
<line x1="851.7" y1="286" x2="851.7" y2="296.5"/><line x1="851.7" y1="679" x2="851.7" y2="668.5"/>
<line x1="1076.8" y1="286" x2="1076.8" y2="296.5"/><line x1="1076.8" y1="679" x2="1076.8" y2="668.5"/>
<line x1="176" y1="331.9" x2="186.5" y2="331.9"/><line x1="1227" y1="331.9" x2="1216.5" y2="331.9"/>
<line x1="176" y1="408.1" x2="186.5" y2="408.1"/><line x1="1227" y1="408.1" x2="1216.5" y2="408.1"/>
<line x1="176" y1="483.7" x2="186.5" y2="483.7"/><line x1="1227" y1="483.7" x2="1216.5" y2="483.7"/>
<line x1="176" y1="558.9" x2="186.5" y2="558.9"/><line x1="1227" y1="558.9" x2="1216.5" y2="558.9"/>
<line x1="176" y1="633.9" x2="186.5" y2="633.9"/><line x1="1227" y1="633.9" x2="1216.5" y2="633.9"/>
<rect x="176" y="286" width="1051" height="393" stroke-linejoin="round"/>
</g>
<text x="171.2" y="341" font-size="17.5" text-anchor="end" fill="#000">15<tspan font-size="13.65" dy="-8.3">o</tspan><tspan font-size="17.5" dy="8.3">N</tspan></text>
<text x="171.2" y="417" font-size="17.5" text-anchor="end" fill="#000">10<tspan font-size="13.65" dy="-8.3">o</tspan><tspan font-size="17.5" dy="8.3">N</tspan></text>
<text x="171.2" y="493" font-size="17.5" text-anchor="end" fill="#000">5<tspan font-size="13.65" dy="-8.3">o</tspan><tspan font-size="17.5" dy="8.3">N</tspan></text>
<text x="165.8" y="568" font-size="17.5" text-anchor="end" fill="#000">0<tspan font-size="13.65" dy="-8.3">o</tspan></text>
<text x="171.2" y="643" font-size="17.5" text-anchor="end" fill="#000">5<tspan font-size="13.65" dy="-8.3">o</tspan><tspan font-size="17.5" dy="8.3">S</tspan></text>
<text x="176.4" y="701" font-size="16.75" text-anchor="middle" fill="#000">150<tspan font-size="13.40" dy="-8.3">o</tspan><tspan font-size="16.75" dy="8.3">W</tspan></text>
<text x="402" y="701" font-size="16.75" text-anchor="middle" fill="#000">135<tspan font-size="13.40" dy="-8.3">o</tspan><tspan font-size="16.75" dy="8.3">W</tspan></text>
<text x="627.2" y="701" font-size="16.75" text-anchor="middle" fill="#000">120<tspan font-size="13.40" dy="-8.3">o</tspan><tspan font-size="16.75" dy="8.3">W</tspan></text>
<text x="852.4" y="701" font-size="16.75" text-anchor="middle" fill="#000">105<tspan font-size="13.40" dy="-8.3">o</tspan><tspan font-size="16.75" dy="8.3">W</tspan></text>
<text x="1078.5" y="701" font-size="16.75" text-anchor="middle" fill="#000">90<tspan font-size="13.40" dy="-8.3">o</tspan><tspan font-size="16.75" dy="8.3">W</tspan></text>
<text x="706.1" y="235.1" font-size="31.42" font-weight="bold" text-anchor="middle" fill="#000">AVHRR Zonal Sea Surface Temperature Gradient</text>
<text x="701.4" y="275" font-size="25.5" font-weight="bold" text-anchor="middle" fill="#000">2016-01-15</text>
<rect x="174.5" y="711.5" width="1050.0" height="19.0" fill="url(#cb)" stroke="#262626" stroke-width="1"/>
<text x="174.5" y="755" font-size="17.5" text-anchor="middle" fill="#262626">-0.03</text>
<line x1="349.5" y1="730.5" x2="349.5" y2="720.0" stroke="#262626" stroke-width="1"/>
<text x="349.5" y="755" font-size="17.5" text-anchor="middle" fill="#262626">-0.02</text>
<line x1="524.5" y1="730.5" x2="524.5" y2="720.0" stroke="#262626" stroke-width="1"/>
<text x="524.5" y="755" font-size="17.5" text-anchor="middle" fill="#262626">-0.01</text>
<line x1="699.5" y1="730.5" x2="699.5" y2="720.0" stroke="#262626" stroke-width="1"/>
<text x="699.5" y="755" font-size="17.5" text-anchor="middle" fill="#262626">0</text>
<line x1="874.5" y1="730.5" x2="874.5" y2="720.0" stroke="#262626" stroke-width="1"/>
<text x="874.5" y="755" font-size="17.5" text-anchor="middle" fill="#262626">0.01</text>
<line x1="1049.5" y1="730.5" x2="1049.5" y2="720.0" stroke="#262626" stroke-width="1"/>
<text x="1049.5" y="755" font-size="17.5" text-anchor="middle" fill="#262626">0.02</text>
<text x="1224.5" y="755" font-size="17.5" text-anchor="middle" fill="#262626">0.03</text>
<text x="700" y="778.8" font-size="17.5" text-anchor="middle" fill="#262626">°C/km</text>
</svg></body></html>
